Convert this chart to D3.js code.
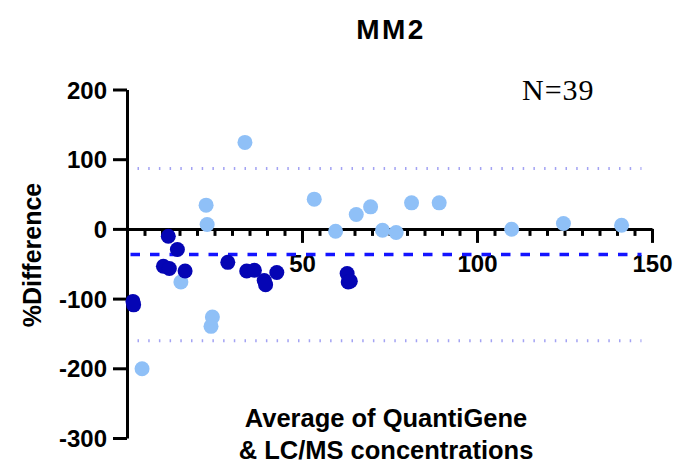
<!DOCTYPE html>
<html>
<head>
<meta charset="utf-8">
<script src="https://cdn.jsdelivr.net/npm/d3@7"></script>
<style>
  body { margin: 0; background: #fff; }
  text { font-family: "Liberation Sans", Arial, sans-serif; font-weight: bold; fill: #000; }
</style>
</head>
<body>
<div id="dataviz"></div>
<script>
// data
var lightX = [4.3, 15.4, 22.6, 22.9, 24.0, 24.4, 33.7, 53.5, 59.6, 65.5, 69.6, 73.0, 76.9, 81.3, 89.2, 109.9, 124.7, 141.3];
var lightY = [-200.6, -76.1, 34.1, 6.3, -139.8, -126.4, 124.1, 42.7, -3.3, 20.7, 31.6, -1.9, -5.2, 37.4, 37.4, -0.4, 7.7, 5.3];

var darkX = [1.7, 1.9, 11.8, 14.4, 10.4, 12.1, 16.6, 28.8, 34.2, 36.4, 39.2, 39.6, 42.8, 62.9, 63.2, 63.8];
var darkY = [-104, -109, -10.5, -29.6, -53.6, -56.9, -60.3, -48, -60.3, -59.3, -74, -80, -62.6, -64.1, -76.1, -75];

var meanDiff = -36.7;
var upperLoA = 86.8;
var lowerLoA = -160.3;
var lineRange = [1, 147];

var yTicks = [200, 100, 0, -100, -200, -300];
var xMajorTicks = [50, 100, 150];
var xMinorTicks = d3.range(5, 150, 5).filter(function(v) { return v % 50 != 0; });

var width = 676, height = 471;

var svg = d3.select("#dataviz")
  .append("svg")
    .attr("width", width)
    .attr("height", height);

var x = d3.scaleLinear().domain([0, 150]).range([127, 652]);
var y = d3.scaleLinear().domain([-300, 200]).range([438, 89.5]);

// plain hyphen for negatives, like the original
var plain = function(d) { return String(d); };

// y axis
var yAxis = svg.append("g")
  .attr("transform", "translate(" + x(0) + ",0)")
  .call(d3.axisLeft(y).tickValues(yTicks).tickFormat(plain).tickSize(14).tickSizeOuter(0).tickPadding(6));
yAxis.selectAll("path, line").attr("stroke", "#000").attr("stroke-width", 3);
yAxis.selectAll("text").style("font-size", "24px").attr("dy", "0.36em");

// x axis: minor ticks, then major ticks with labels
var xMinor = svg.append("g")
  .attr("transform", "translate(0," + y(0) + ")")
  .call(d3.axisBottom(x).tickValues(xMinorTicks).tickSize(7).tickSizeOuter(0).tickFormat(""));
xMinor.selectAll("path, line").attr("stroke", "#000").attr("stroke-width", 3);

var xMajor = svg.append("g")
  .attr("transform", "translate(0," + y(0) + ")")
  .call(d3.axisBottom(x).tickValues(xMajorTicks).tickFormat(plain).tickSize(14).tickSizeOuter(0).tickPadding(12));
xMajor.select("path").remove();
xMajor.selectAll("line").attr("stroke", "#000").attr("stroke-width", 3);
xMajor.selectAll("text").style("font-size", "24px");

// limits of agreement (dotted) and mean (dashed)
[upperLoA, lowerLoA].forEach(function(v) {
  svg.append("line")
    .attr("x1", x(lineRange[0])).attr("x2", x(lineRange[1]))
    .attr("y1", y(v)).attr("y2", y(v))
    .attr("stroke", "#a3a3f3")
    .attr("stroke-width", 3)
    .attr("stroke-dasharray", "1.5,9.2")
    .attr("stroke-dashoffset", -7);
});

svg.append("line")
  .attr("x1", x(lineRange[0])).attr("x2", x(lineRange[1]))
  .attr("y1", y(meanDiff)).attr("y2", y(meanDiff))
  .attr("stroke", "#1414ff")
  .attr("stroke-width", 3.5)
  .attr("stroke-dasharray", "9.5,10");

// points
svg.selectAll(".light")
  .data(d3.zip(lightX, lightY))
  .enter()
  .append("circle")
    .classed("light", true)
    .attr("cx", function(d) { return x(d[0]); })
    .attr("cy", function(d) { return y(d[1]); })
    .attr("r", 7.5)
    .attr("fill", "#8fc0f7");

svg.selectAll(".dark")
  .data(d3.zip(darkX, darkY))
  .enter()
  .append("circle")
    .classed("dark", true)
    .attr("cx", function(d) { return x(d[0]); })
    .attr("cy", function(d) { return y(d[1]); })
    .attr("r", 7.5)
    .attr("fill", "#0505b4");

// title
svg.append("text")
  .attr("x", 391)
  .attr("y", 39)
  .style("font-size", "28px")
  .style("letter-spacing", "2.5px")
  .style("text-anchor", "middle")
  .text("MM2");

// N label
svg.append("text")
  .attr("x", 522)
  .attr("y", 100)
  .style("font-family", "'Liberation Serif', 'Times New Roman', serif")
  .style("font-weight", "normal")
  .style("font-size", "30px")
  .style("letter-spacing", "1px")
  .text("N=39");

// y axis label
svg.append("text")
  .attr("transform", "translate(41,255) rotate(-90)")
  .style("font-size", "25px")
  .style("text-anchor", "middle")
  .text("%Difference");

// x axis label (two lines)
svg.append("text")
  .attr("x", 386)
  .attr("y", 427)
  .style("font-size", "25.5px")
  .style("text-anchor", "middle")
  .text("Average of QuantiGene");

svg.append("text")
  .attr("x", 386)
  .attr("y", 459)
  .style("font-size", "25.5px")
  .style("text-anchor", "middle")
  .text("& LC/MS concentrations");
</script>
</body>
</html>
